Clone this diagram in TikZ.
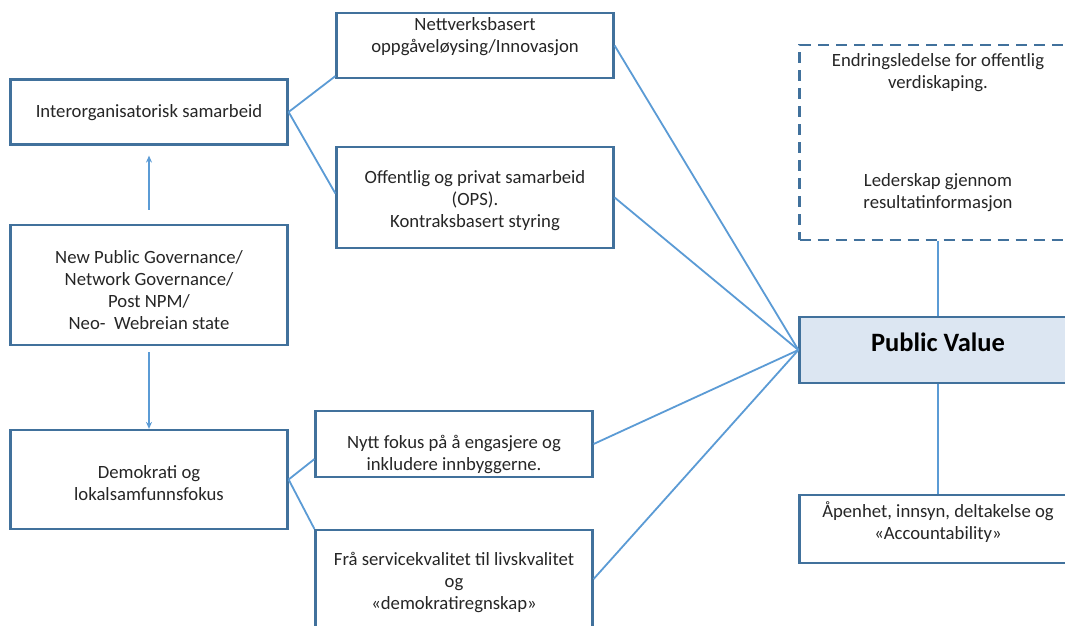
\documentclass[tikz,border=0pt]{standalone}
\usepackage{fontspec}
\setmainfont{Carlito}
\usetikzlibrary{arrows.meta,calc}
\definecolor{boxline}{HTML}{41719C}
\definecolor{linkline}{HTML}{5B9BD5}
\definecolor{pvfill}{HTML}{DCE6F2}
\definecolor{txt}{HTML}{262626}
\tikzset{
  box/.style={draw=boxline, line width=2.2pt, rectangle, inner sep=0pt, minimum width=277pt},
  dashbox/.style={box, dash pattern=on 11pt off 7pt},
  lbl/.style={align=center, text=txt, font=\fontsize{18.7}{22}\selectfont, inner sep=0pt},
  link/.style={draw=linkline, line width=1.8pt},
  uparrow/.style={link, -{Stealth[length=7pt,width=6pt]}}
}
\begin{document}
\begin{tikzpicture}[x=1pt,y=-1pt]
\useasboundingbox (0,0) rectangle (1065,625);
\clip (0,0) rectangle (1065,625);
\fill[white] (0,0) rectangle (1065,625);

% left column
\node[box, minimum height=65pt] (inter) at (149,112) {};
\node[lbl] (intert) at (149,113) {Interorganisatorisk samarbeid};
\node[box, minimum height=120pt] (npg) at (149,285) {};
\node[lbl] (npgt) at (149,290) {New Public Governance/\\Network Governance/\\Post NPM/\\Neo-\ \ Webreian state};
\node[box, minimum height=99pt] (demo) at (149,479.5) {};
\node[lbl] (demot) at (149,483) {Demokrati og\\lokalsamfunnsfokus};

% middle column
\node[box, minimum height=65pt] (nett) at (475,45.5) {};
\node[lbl] (nettt) at (475,37) {Nettverksbasert\\oppgåveløysing/Innovasjon};
\node[box, minimum height=101pt] (offp) at (475,197.5) {};
\node[lbl] (offpt) at (475,201) {Offentlig og privat samarbeid\\(OPS).\\Kontraksbasert styring};
\node[box, minimum height=66pt] (nytt) at (454,444) {};
\node[lbl] (nyttt) at (454,454) {Nytt fokus på å engasjere og\\inkludere innbyggerne.};
\node[box, minimum height=98pt] (fra) at (454,579) {};
\node[lbl] (frat) at (454,582) {Frå servicekvalitet til livskvalitet\\og\\«demokratiregnskap»};

% right column
\node[dashbox, minimum height=195pt] (dash) at (938,142.5) {};
\node[lbl] (dasht1) at (938,73) {Endringsledelse for offentlig\\verdiskaping.};
\node[lbl] (dasht2) at (938,193) {Lederskap gjennom\\resultatinformasjon};
\node[box, fill=pvfill, minimum height=66pt] (pv) at (938,350) {};
\node[font=\fontsize{26.5}{30}\selectfont\bfseries, inner sep=0pt] (pvt) at (938,342) {Public Value};
\node[box, minimum height=68pt] (open) at (938,529) {};
\node[lbl] (opent) at (938,522) {Åpenhet, innsyn, deltakelse og\\«Accountability»};

% arrows in the left column
\draw[uparrow] ([yshift=14pt]npg.north) -- ([yshift=-10pt]inter.south);
\draw[uparrow] ([yshift=-6pt]npg.south) -- (demo.north);

% branches
\draw[link] (inter.east) -- ([yshift=3pt]nett.south west);
\draw[link] (inter.east) -- ([yshift=4pt]offp.west);
\draw[link] (demo.east) -- ([yshift=19pt]nytt.south west);
\draw[link] (demo.east) -- (fra.north west);

% links into Public Value
\draw[link] (nett.east) -- (pv.west);
\draw[link] (offp.east) -- (pv.west);
\draw[link] (nytt.east) -- (pv.west);
\draw[link] (fra.east) -- (pv.west);
\draw[link] (dash.south) -- (pv.north);
\draw[link] (pv.south) -- (open.north);
\end{tikzpicture}
\end{document}
